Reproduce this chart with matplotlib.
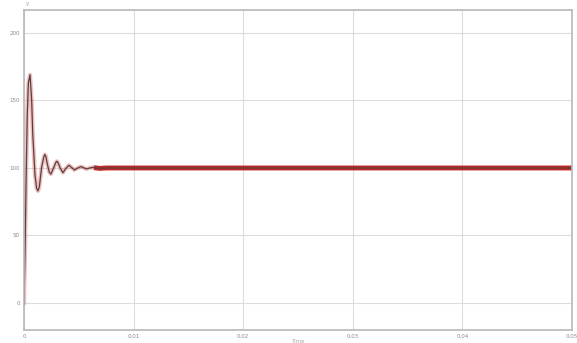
import numpy as np
import matplotlib.pyplot as plt

# step response (time in s, value)
t = [0.0, 0.0001, 0.0002, 0.0003, 0.0004, 0.00055, 0.0007, 0.0008, 0.0010,
     0.00115, 0.00127, 0.0014, 0.0016, 0.0018, 0.0019, 0.0020,
     0.0021, 0.0023, 0.00245, 0.0027, 0.0029, 0.0030, 0.0031, 0.0033,
     0.00355, 0.0038, 0.0041, 0.0044, 0.0046, 0.0049, 0.0052, 0.0055,
     0.0057, 0.0060, 0.0063, 0.0066, 0.0069, 0.0075, 0.05]
y = [0.0, 40.0, 95.0, 140.0, 163.0, 169.0, 150.0, 125.0, 95.0,
     85.0, 83.0, 86.0, 100.0, 108.0, 110.0, 108.5,
     104.0, 97.0, 95.5, 100.0, 104.0, 105.0, 104.0, 100.0,
     96.5, 99.5, 102.0, 100.0, 98.5, 100.0, 101.0, 100.0,
     99.3, 100.0, 100.5, 100.0, 99.7, 100.0, 100.0]

xticks = [0, 0.01, 0.02, 0.03, 0.04, 0.05]
xticklabels = ['0', '0.01', '0.02', '0.03', '0.04', '0.05']
yticks = [0, 50, 100, 150, 200]

fig = plt.figure(figsize=(5.77, 3.43), dpi=100)
ax = fig.add_axes([24 / 577, 13 / 343, 548 / 577, 320 / 343])

ax.plot(t, y, color='#d03030', linewidth=3, alpha=0.3)
ax.plot(t[-4:], y[-4:], color='#c02828', linewidth=3.5)
ax.plot(t, y, color='#5a4040', linewidth=0.9)

ax.set_xlim(0, 0.05)
ax.set_ylim(-20, 217)
ax.set_xticks(xticks)
ax.set_xticklabels(xticklabels)
ax.set_yticks(yticks)
ax.tick_params(labelsize=4, colors='#888888', length=0, pad=3)
ax.grid(True, color='#dcdcdc', linewidth=0.8)
for s in ax.spines.values():
    s.set_color('#b8b8b8')
    s.set_linewidth(1.2)

ax.set_xlabel('Time', fontsize=4, color='#aaaaaa', labelpad=0)
fig.text(27 / 577, 1 - 3 / 343, 'y', fontsize=4, color='#999999', ha='center', va='center')

fig.savefig('out.png', dpi=100)
